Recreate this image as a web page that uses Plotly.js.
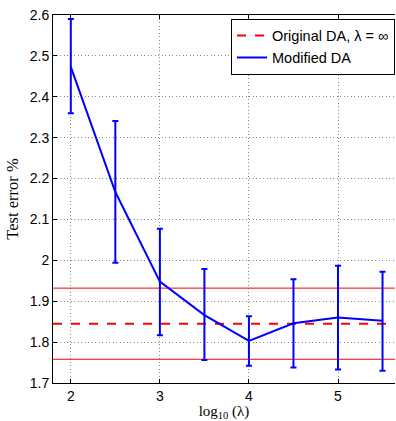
<!DOCTYPE html>
<html><head><meta charset="utf-8">
<script src="https://cdn.plot.ly/plotly-3.0.1.min.js"></script>
<style>body{margin:0;padding:0;background:#fff}#g{width:396px;height:421px}</style>
</head><body><div id="g"></div>
<script>
const logLambda = [2, 2.5, 3, 3.5, 4, 4.5, 5, 5.5];
const modMean  = [2.473, 2.167, 1.948, 1.866, 1.803, 1.846, 1.860, 1.852];
const modUpper = [2.590, 2.341, 2.077, 1.979, 1.863, 1.954, 1.987, 1.972];
const modLower = [2.360, 1.994, 1.817, 1.756, 1.742, 1.738, 1.733, 1.730];
const origMean = 1.845;
const origUpper = 1.932;
const origLower = 1.758;
const xRange = [1.8, 5.64];
const yRange = [1.7, 2.6];
const yTicks = [1.7, 1.8, 1.9, 2, 2.1, 2.2, 2.3, 2.4, 2.5, 2.6];
const yTickText = ['1.7','1.8','1.9','2','2.1','2.2','2.3','2.4','2.5','2.6'];
const xTicks = [2, 3, 4, 5];

const errPlus = modUpper.map((u, i) => u - modMean[i]);
const errMinus = modMean.map((m, i) => m - modLower[i]);

const traces = [
  {x: xRange, y: [origMean, origMean], mode: 'lines', name: 'Original DA, λ = ∞',
   line: {color: '#ff0000', width: 2, dash: 'dash'}},
  {x: xRange, y: [origUpper, origUpper], mode: 'lines', showlegend: false,
   line: {color: '#ff0000', width: 1}, hoverinfo: 'skip'},
  {x: xRange, y: [origLower, origLower], mode: 'lines', showlegend: false,
   line: {color: '#ff0000', width: 1}, hoverinfo: 'skip'},
  {x: logLambda, y: modMean, mode: 'lines', name: 'Modified DA',
   line: {color: '#0000ff', width: 2},
   error_y: {type: 'data', symmetric: false, array: errPlus, arrayminus: errMinus,
             color: '#0000ff', thickness: 2, width: 3}}
];

const sans = 'Liberation Sans, Arial, sans-serif';
const serif = 'Liberation Serif, serif';
const layout = {
  width: 396, height: 421,
  margin: {l: 53, r: 1, t: 15, b: 38},
  paper_bgcolor: '#fff', plot_bgcolor: '#fff',
  showlegend: true,
  legend: {x: 1, xanchor: 'right', y: 0.99, yanchor: 'top',
           bgcolor: '#fff', bordercolor: '#000', borderwidth: 1,
           font: {family: sans, size: 14.5, color: '#000'},
           tracegroupgap: 0, itemwidth: 30},
  xaxis: {range: xRange, tickvals: xTicks, ticks: 'inside', ticklen: 4, tickcolor: '#000',
          showline: true, linecolor: '#000', linewidth: 1, mirror: 'ticks',
          showgrid: true, gridcolor: '#888', griddash: '1px,2.5px', gridwidth: 1, zeroline: false,
          tickfont: {family: sans, size: 14, color: '#000'},
          title: {text: 'log<sub>10</sub> (λ)', standoff: 2,
                  font: {family: serif, size: 15, color: '#000'}}},
  yaxis: {range: yRange, tickvals: yTicks, ticktext: yTickText, ticks: 'inside', ticklen: 4, tickcolor: '#000',
          showline: true, linecolor: '#000', linewidth: 1,
          showgrid: true, gridcolor: '#888', griddash: '1px,2.5px', gridwidth: 1, zeroline: false,
          tickfont: {family: sans, size: 14, color: '#000'},
          title: {text: 'Test error %', standoff: 6,
                  font: {family: serif, size: 16.5, color: '#000'}}}
};

Plotly.newPlot('g', traces, layout, {displayModeBar: false, staticPlot: true});
</script>
</body></html>
